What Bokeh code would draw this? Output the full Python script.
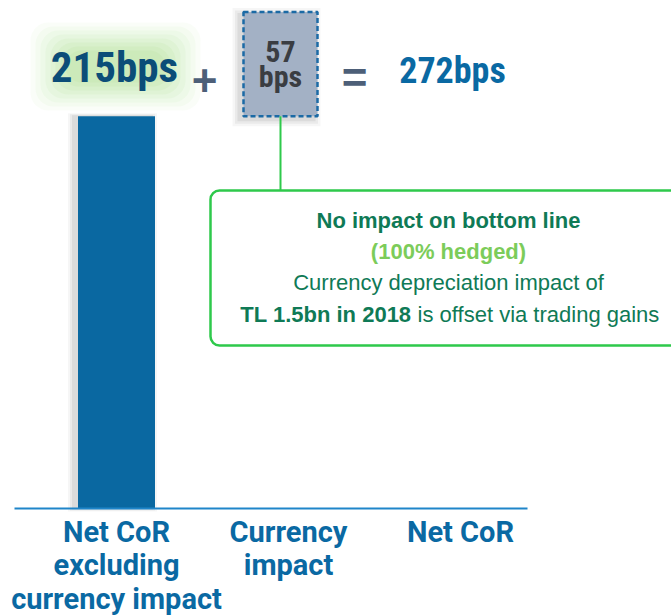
from bokeh.plotting import figure
from bokeh.models import Range1d, BoxAnnotation
from bokeh.core.properties import value
from bokeh.embed import file_html
from bokeh.resources import INLINE

# ---------------- data ----------------
categories = ["Net CoR\nexcluding\ncurrency impact", "Currency\nimpact", "Net CoR"]
values_bps = [215, 57, 272]          # net CoR excl. currency, currency impact, net CoR
unit = "bps"
callout_title = "No impact on bottom line"
callout_sub = "(100% hedged)"
callout_line3 = "Currency depreciation impact of"
callout_bold = "TL 1.5bn in 2018"
callout_rest = "\u00a0is offset via trading gains"

# ---------------- layout helpers (pixel -> data) ----------------
W, H = 671, 616
X0, SP = 116.0, 172.0      # px of first category centre, px per category
AXIS_PX, YS = 508.0, 1.825  # px of zero line, px per bps


def dx(px):
    return (px - X0) / SP


def dy(py):
    return (AXIS_PX - py) / YS


COND = "Roboto Condensed"
ROBOTO = "Roboto"
SANS = "Liberation Sans"

BLUE_BAR = "#0a68a1"
BLUE_TXT = "#0a69a3"
NAVY = "#0b4d78"
OP_COL = "#4d5f78"
GREEN_LINE = "#2ec94b"
GREEN_DARK = "#0f7a56"
GREEN_LIGHT = "#7ccc5a"

p = figure(width=W, height=H, x_range=Range1d(dx(0), dx(W)), y_range=Range1d(dy(H), dy(0)),
           x_axis_type=None, y_axis_type=None, toolbar_location=None,
           output_backend="svg", min_border=0, outline_line_color=None)
p.background_fill_color = "white"
p.border_fill_color = "white"

BAR_W = 77 / SP
BOX_W = 74 / SP
BOX_X = 1 - 8 / SP

# ---------------- callout box ----------------
p.add_layout(BoxAnnotation(left=dx(210), right=dx(700), top=dy(190), bottom=dy(345),
                           fill_color="white", fill_alpha=1.0, line_color=GREEN_LINE, line_alpha=1.0,
                           line_width=2.5, border_radius=9, level="underlay"))

# ---------------- bar with soft shadow ----------------
for k, a in [(12, 0.05), (8, 0.07), (4, 0.1)]:
    p.rect(x=[0 - 4 / SP], y=[values_bps[0] / 2], width=[BAR_W * SP + k], height=[values_bps[0] * YS + k / 2],
           width_units="screen", height_units="screen", fill_color="#555555", fill_alpha=a, line_color=None)
p.vbar(x=[0], top=[values_bps[0]], bottom=0, width=BAR_W, fill_color=BLUE_BAR, line_color=None)

# ---------------- currency box (floating) with shadow ----------------
lo, hi = values_bps[0], values_bps[0] + values_bps[1]
for k, a in [(14, 0.05), (9, 0.07), (4, 0.1)]:
    p.rect(x=[BOX_X - 4 / SP], y=[(lo + hi) / 2 - 3 / YS], width=[BOX_W * SP + k], height=[(hi - lo) * YS + k],
           width_units="screen", height_units="screen", fill_color="#555555", fill_alpha=a, line_color=None)
p.quad(left=[BOX_X - BOX_W / 2], right=[BOX_X + BOX_W / 2], bottom=[lo], top=[hi],
       fill_color="#a3b1c5", line_color="#1b6aa5", line_width=2.5, line_dash="5 3")
p.text(x=[BOX_X], y=[(lo + hi) / 2], text=[f"{values_bps[1]}\n{unit}"], text_align="center",
       text_baseline="middle", text_font=value(COND), text_font_style="bold",
       text_font_size="30px", text_color="#3a3d42", text_line_height=0.72)

# connector line
p.segment(x0=[BOX_X], y0=[lo], x1=[BOX_X], y1=[dy(190)], line_color=GREEN_LINE, line_width=2)

# ---------------- top row: 215bps + [57bps] = 272bps ----------------
GLOW_Y = dy(66)
for wpx, hpx, a in [(170, 88, 0.05), (160, 80, 0.06), (150, 72, 0.07), (140, 64, 0.08),
                    (130, 56, 0.09), (120, 48, 0.10), (110, 40, 0.10), (100, 32, 0.10)]:
    p.rect(x=[dx(115)], y=[GLOW_Y], width=[wpx], height=[hpx], width_units="screen", height_units="screen",
           fill_color="#9fdc7a", fill_alpha=a, line_color=None, border_radius=18)
p.text(x=[dx(114)], y=[dy(66)], text=[f"{values_bps[0]}{unit}"], text_align="center",
       text_baseline="middle", text_font=value(COND), text_font_style="bold",
       text_font_size="43px", text_color=NAVY)
p.text(x=[dx(204)], y=[dy(80)], text=["+"], text_align="center", text_baseline="middle",
       text_font=value(SANS), text_font_style="bold", text_font_size="44px", text_color=OP_COL)
p.text(x=[dx(354)], y=[dy(77)], text=["="], text_align="center", text_baseline="middle",
       text_font=value(SANS), text_font_style="bold", text_font_size="44px", text_color=OP_COL)
p.text(x=[dx(452)], y=[dy(70)], text=[f"{values_bps[2]}{unit}"], text_align="center",
       text_baseline="middle", text_font=value(COND), text_font_style="bold",
       text_font_size="36px", text_color=BLUE_TXT)

# ---------------- axis line & category labels ----------------
p.segment(x0=[dx(14)], y0=[0], x1=[dx(527)], y1=[0], line_color="#1f85c9", line_width=2)
LINE_STEP = 33.5 / YS
for i, cat in enumerate(categories):
    lines = cat.split("\n")
    p.text(x=[i] * len(lines), y=[dy(531) - j * LINE_STEP for j in range(len(lines))], text=lines,
           text_align="center", text_baseline="middle", text_font=value(ROBOTO),
           text_font_style="bold", text_font_size="29px", text_color=BLUE_TXT)

# ---------------- callout texts ----------------
CX = dx(448)
p.text(x=[CX], y=[dy(220)], text=[callout_title], text_align="center", text_baseline="middle",
       text_font=value(SANS), text_font_style="bold", text_font_size="22px", text_color=GREEN_DARK)
p.text(x=[CX], y=[dy(251)], text=[callout_sub], text_align="center", text_baseline="middle",
       text_font=value(SANS), text_font_style="bold", text_font_size="22px", text_color=GREEN_LIGHT)
p.text(x=[CX], y=[dy(282)], text=[callout_line3], text_align="center", text_baseline="middle",
       text_font=value(SANS), text_font_size="22px", text_color=GREEN_DARK)
p.text(x=[dx(411)], y=[dy(314)], text=[callout_bold], text_align="right", text_baseline="middle",
       text_font=value(SANS), text_font_style="bold", text_font_size="22px", text_color=GREEN_DARK)
p.text(x=[dx(411)], y=[dy(314)], text=[callout_rest], text_align="left", text_baseline="middle",
       text_font=value(SANS), text_font_size="22px", text_color=GREEN_DARK)

open("out.html", "w").write(file_html(p, INLINE))
